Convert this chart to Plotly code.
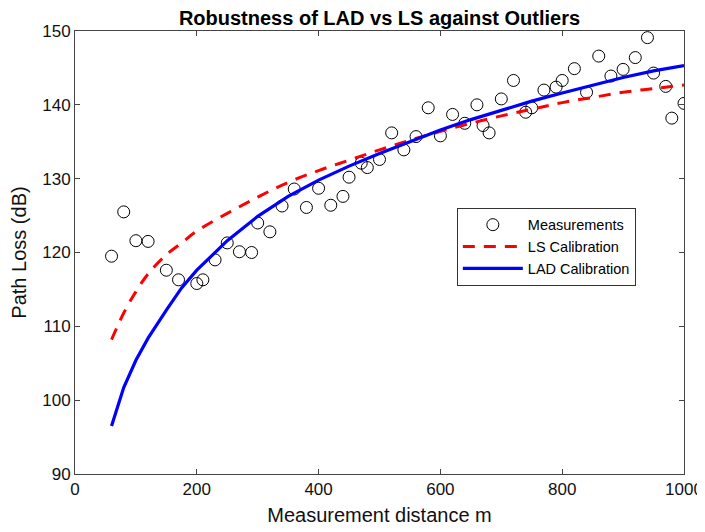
import plotly.graph_objects as go

meas_d = [60, 80, 100, 120, 150, 170, 200, 210, 230, 250, 270, 290, 300, 320, 340, 360,
          380, 400, 420, 440, 450, 470, 480, 500, 520, 540, 560, 580, 600, 620, 640, 660,
          670, 680, 700, 720, 740, 750, 770, 790, 800, 820, 840, 860, 880, 900, 920, 940,
          950, 970, 980, 1000]
meas_pl = [119.5, 125.5, 121.6, 121.5, 117.6, 116.3, 115.8, 116.3, 119.0, 121.3, 120.1, 120.0,
           124.0, 122.8, 126.3, 128.6, 126.1, 128.7, 126.4, 127.6, 130.2, 132.1, 131.5, 132.6,
           136.2, 133.9, 135.7, 139.6, 135.8, 138.7, 137.5, 140.0, 137.2, 136.2, 140.8, 143.3,
           139.0, 139.6, 142.0, 142.4, 143.3, 144.9, 141.7, 146.6, 143.9, 144.8, 146.4, 149.1,
           144.3, 142.5, 138.2, 140.2]

# Calibration curves
curve_d = [60, 80, 100, 120, 150, 175, 200, 250, 300, 350, 400, 450, 500, 550, 600,
           650, 700, 750, 800, 850, 900, 950, 1000]
ls_pl = [108.2, 111.8, 114.7, 117.1, 119.7, 121.3, 122.9, 125.3, 127.5, 129.5, 131.1, 132.5,
         133.9, 135.2, 136.4, 137.5, 138.5, 139.4, 140.3, 141.0, 141.7, 142.2, 142.7]
lad_pl = [96.5, 101.7, 105.4, 108.4, 112.2, 115.2, 117.6, 121.6, 124.9, 127.6, 129.8, 131.7,
          133.4, 135.0, 136.6, 138.0, 139.3, 140.5, 141.6, 142.7, 143.7, 144.6, 145.3]

FONT = "Liberation Sans, Arial, sans-serif"

fig = go.Figure()
fig.add_trace(go.Scatter(
    x=meas_d, y=meas_pl, mode="markers", name="Measurements",
    marker=dict(symbol="circle-open", size=12, color="black", line=dict(width=1, color="black")),
))
fig.add_trace(go.Scatter(
    x=curve_d, y=ls_pl, mode="lines", name="LS Calibration", line_shape="spline",
    line=dict(color="#ff0000", width=3, dash="12px,9px"),
))
fig.add_trace(go.Scatter(
    x=curve_d, y=lad_pl, mode="lines", name="LAD Calibration",
    line=dict(color="#0000ff", width=3.2),
))

axis_common = dict(
    showgrid=False, zeroline=False, showline=True, linecolor="#444", linewidth=1,
    mirror="allticks", ticks="inside", ticklen=5, tickcolor="#444", automargin=False,
    tickfont=dict(family=FONT, size=17, color="#111"),
)

# page body has an 8px default margin, so the figure is a bit smaller than the window
W, H = 697, 524
L, R, T, B = 67, 21, 23, 58

fig.update_layout(
    width=W, height=H,
    margin=dict(l=L, r=R, t=T, b=B),
    paper_bgcolor="white", plot_bgcolor="white",
    title=dict(text="<b>Robustness of LAD vs LS against Outliers</b>",
               font=dict(family=FONT, size=20, color="black"),
               x=(L + (W - R)) / 2 / W, xanchor="center", y=1 - 10 / H, yanchor="middle"),
    xaxis=dict(range=[0, 1000], tickvals=[0, 200, 400, 600, 800, 1000],
               title=dict(text="Measurement distance m", font=dict(family=FONT, size=20, color="#111"), standoff=9),
               **axis_common),
    yaxis=dict(range=[90, 150], tickvals=[90, 100, 110, 120, 130, 140, 150],
               title=dict(text="Path Loss (dB)", font=dict(family=FONT, size=20, color="#111"), standoff=10),
               **axis_common),
    legend=dict(x=0.627, y=0.601, xanchor="left", yanchor="top",
                bgcolor="white", bordercolor="#333", borderwidth=1,
                font=dict(family=FONT, size=14.5, color="black"),
                itemwidth=60, tracegroupgap=0),
    showlegend=True,
)

fig.write_html("out.html")
